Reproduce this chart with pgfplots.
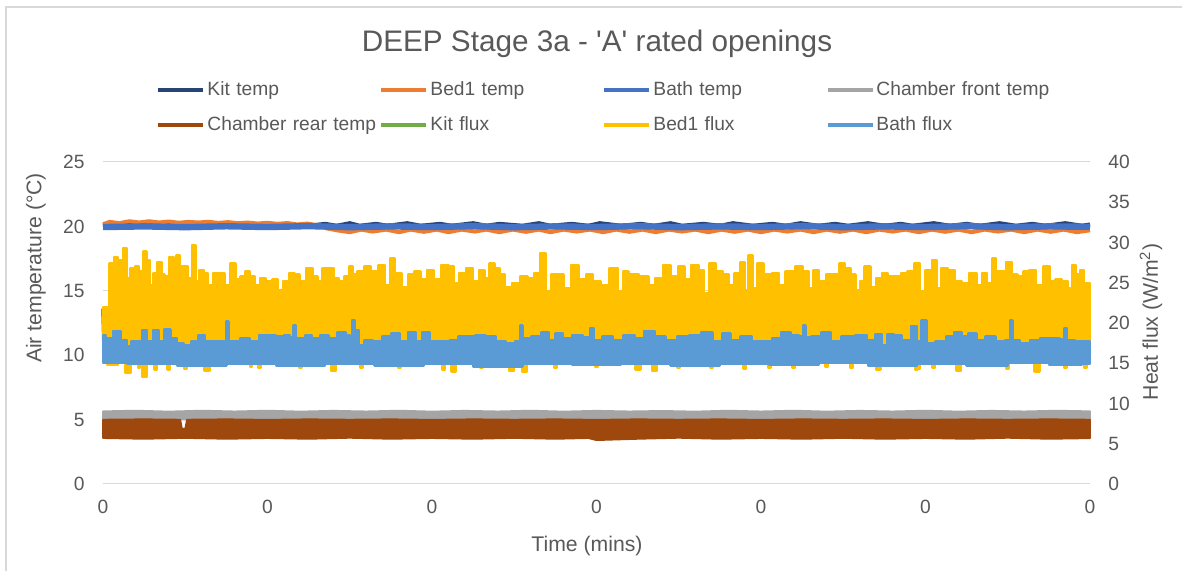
\documentclass[border=0pt]{standalone}
\usepackage{fontspec}
\setmainfont{Liberation Sans}
\newfontfamily\plainfont{Liberation Sans}
\usepackage{pgfplots}
\pgfplotsset{compat=1.18}
\definecolor{txt}{HTML}{595959}
\definecolor{gridc}{HTML}{D9D9D9}
\definecolor{kitT}{HTML}{264478}
\definecolor{bedT}{HTML}{ED7D31}
\definecolor{bathT}{HTML}{4472C4}
\definecolor{frontT}{HTML}{A5A5A5}
\definecolor{rearT}{HTML}{9E480E}
\definecolor{kitF}{HTML}{70AD47}
\definecolor{bedF}{HTML}{FFC000}
\definecolor{bathF}{HTML}{5B9BD5}
\pgfplotsset{base/.style={
  scale only axis, width=493.5pt, height=161pt,
  at={(51.5pt,43.5pt)}, anchor=south west,
  xmin=0, xmax=6, clip=false,
  axis line style={draw=none}, major tick length=0pt,
  ticklabel style={font=\fontsize{9.6}{11}\selectfont, text=txt},
  /pgf/number format/assume math mode=true,
}}
\begin{document}
\begin{tikzpicture}
\useasboundingbox (0,0) rectangle (591pt,285.5pt);
\fill[white] (0,0) rectangle (591pt,285.5pt);
\draw[gridc, line width=0.75pt] (3pt,0) -- (3pt,282pt) -- (591pt,282pt);
\node[font=\plainfont\fontsize{14.85}{17}\selectfont, text=txt] at (298.5pt,263.5pt) {DEEP Stage 3a - 'A' rated openings};
\node[rotate=90, font=\fontsize{10.6}{12}\selectfont, text=txt] at (18pt,151.5pt) {Air temperature (°C)};
\node[rotate=90, font=\fontsize{10.6}{12}\selectfont, text=txt] at (575.5pt,124.5pt) {Heat flux (W/m\textsuperscript{2})};
\node[font=\fontsize{10.6}{12}\selectfont, text=txt] at (293.5pt,12.5pt) {Time (mins)};

% ---------- left axis: temperatures ----------
\begin{axis}[base, ymin=0, ymax=25, ytick={0,5,...,25},
  ymajorgrids, grid style={gridc, line width=0.5pt},
  xtick={0,1,...,6}, xticklabels={0,0,0,0,0,0,0},
  yticklabel style={anchor=east, inner sep=0pt, xshift=-9pt},
  xticklabel style={anchor=north, inner sep=0pt, yshift=-8pt}]
% Kit temp
\addplot[kitT, line width=2pt, line join=round] coordinates {
(0,20.2) (0.08,20.1) (0.15,20.2) (0.25,20.05) (0.35,20.15) (0.45,20.05) (0.55,20.1) (0.65,20.0) (0.75,20.1) (0.85,20.05) (0.95,20.1) (1.05,20.0) (1.15,20.1) (1.25,20.05) (1.35,20.2) (1.42,20.05) (1.5,20.25) (1.56,20.05) (1.66,20.2) (1.73,20.05) (1.85,20.25) (1.93,20.05) (2.05,20.2) (2.12,20.05) (2.25,20.25) (2.33,20.05) (2.41,20.2) (2.55,20.05) (2.65,20.25) (2.72,20.05) (2.85,20.2) (2.95,20.05) (3.02,20.25) (3.15,20.05) (3.27,20.2) (3.35,20.05) (3.45,20.25) (3.52,20.05) (3.65,20.2) (3.75,20.05) (3.83,20.25) (3.95,20.05) (4.07,20.2) (4.15,20.05) (4.24,20.25) (4.35,20.05) (4.45,20.2) (4.53,20.05) (4.65,20.25) (4.75,20.05) (4.85,20.2) (4.92,20.05) (5.05,20.25) (5.15,20.05) (5.25,20.2) (5.33,20.05) (5.45,20.25) (5.55,20.05) (5.65,20.2) (5.73,20.05) (5.85,20.25) (5.95,20.05) (6,20.15)};
% Bed1 temp
\addplot[bedT, line width=2pt, line join=round] coordinates {
(0,20.15) (0.04,20.35) (0.1,20.25) (0.16,20.4) (0.22,20.3) (0.28,20.4) (0.34,20.3) (0.4,20.38) (0.46,20.28) (0.52,20.35) (0.58,20.3) (0.64,20.36) (0.7,20.27) (0.76,20.33) (0.82,20.25) (0.88,20.3) (0.94,20.22) (1.0,20.28) (1.06,20.2) (1.12,20.26) (1.18,20.15) (1.24,20.22) (1.3,20.1) (1.36,19.85) (1.42,19.7) (1.5,19.55) (1.57,19.75) (1.64,19.6) (1.72,19.75) (1.8,19.55) (1.87,19.75) (1.95,19.58) (2.03,19.75) (2.1,19.55) (2.18,19.75) (2.26,19.6) (2.33,19.75) (2.41,19.55) (2.49,19.75) (2.57,19.58) (2.65,19.75) (2.72,19.55) (2.8,19.75) (2.88,19.6) (2.96,19.75) (3.04,19.55) (3.12,19.75) (3.2,19.58) (3.28,19.75) (3.36,19.55) (3.44,19.75) (3.52,19.6) (3.6,19.75) (3.68,19.55) (3.76,19.75) (3.84,19.58) (3.92,19.75) (4.0,19.55) (4.08,19.75) (4.16,19.6) (4.24,19.75) (4.32,19.55) (4.4,19.75) (4.48,19.58) (4.56,19.75) (4.64,19.55) (4.72,19.75) (4.8,19.6) (4.88,19.75) (4.96,19.55) (5.04,19.75) (5.12,19.58) (5.2,19.75) (5.28,19.55) (5.36,19.75) (5.44,19.6) (5.52,19.75) (5.6,19.55) (5.68,19.75) (5.76,19.58) (5.84,19.75) (5.92,19.55) (6,19.7)};
% Bath temp
\addplot[bathT, line width=3.2pt, line join=round] coordinates {
(0,19.95) (0.25,20.0) (0.5,19.94) (0.75,20.01) (1.0,19.95) (1.25,20.02) (1.5,19.94) (1.75,20.0) (2.0,19.95) (2.25,20.02) (2.5,19.94) (2.75,20.0) (3.0,19.95) (3.25,20.02) (3.5,19.94) (3.75,20.0) (4.0,19.95) (4.25,20.02) (4.5,19.94) (4.75,20.0) (5.0,19.95) (5.25,20.02) (5.5,19.94) (5.75,20.0) (6.0,19.97)};
% Chamber front temp (band)
\addplot[draw=frontT, fill=frontT, line width=0.8pt, line join=round, forget plot] coordinates {
(0,5.65) (0.2,5.7) (0.4,5.63) (0.6,5.7) (0.8,5.64) (1.0,5.7) (1.2,5.63) (1.4,5.69) (1.6,5.64) (1.8,5.7) (2.0,5.63) (2.2,5.69) (2.4,5.64) (2.6,5.7) (2.8,5.63) (3.0,5.69) (3.2,5.64) (3.4,5.68) (3.6,5.63) (3.8,5.7) (4.0,5.64) (4.2,5.7) (4.4,5.63) (4.6,5.69) (4.8,5.64) (5.0,5.7) (5.2,5.63) (5.4,5.69) (5.6,5.64) (5.8,5.7) (6.0,5.65)
(6.0,5.0) (0,5.0)} -- cycle;
% Chamber rear temp (band)
\addplot[draw=rearT, fill=rearT, line width=0.8pt, line join=round, forget plot] coordinates {
(0,5.0) (0.25,5.03) (0.47,5.0) (0.48,4.3) (0.5,4.3) (0.51,5.0) (0.75,5.03) (1.0,4.99) (1.25,5.03) (1.5,5.0) (1.75,5.03) (2.0,4.99) (2.25,5.03) (2.5,5.0) (2.75,5.03) (3.0,4.99) (3.25,5.03) (3.5,5.0) (3.75,5.03) (4.0,4.99) (4.25,5.03) (4.5,5.0) (4.75,5.03) (5.0,4.99) (5.25,5.03) (5.5,5.0) (5.75,5.03) (6.0,5.0)
(6.0,3.55) (5.75,3.5) (5.5,3.58) (5.25,3.5) (5.0,3.56) (4.75,3.5) (4.5,3.57) (4.25,3.5) (4.0,3.56) (3.75,3.5) (3.5,3.58) (3.25,3.5) (3.0,3.4) (2.95,3.56) (2.75,3.5) (2.5,3.57) (2.25,3.5) (2.0,3.56) (1.75,3.5) (1.5,3.58) (1.25,3.5) (1.0,3.56) (0.75,3.5) (0.5,3.57) (0.25,3.5) (0,3.56)} -- cycle;
\end{axis}

% ---------- right axis: heat flux ----------
\begin{axis}[base, ymin=0, ymax=40, ytick={0,5,...,40},
  axis y line*=right, hide x axis,
  yticklabel style={anchor=west, inner sep=0pt, xshift=9pt},
  legend columns=4,
  legend style={draw=none, fill=none, inner sep=0pt, outer sep=0pt,
    at={(axis description cs:0.0542,1.278)}, anchor=north west,
    font=\fontsize{9.6}{11}\selectfont, text=txt,
    nodes={text width=85pt, minimum height=17.5pt, inner xsep=1pt, inner ysep=0pt, align=left},
    column sep=0pt, row sep=0pt},
  legend image code/.code={\draw[#1, line width=2pt] (0pt,0.2pt) -- (22.5pt,0.2pt);}]
\addlegendimage{color=kitT}\addlegendentry{\mbox{Kit temp}}
\addlegendimage{color=bedT}\addlegendentry{\mbox{Bed1 temp}}
\addlegendimage{color=bathT}\addlegendentry{\mbox{Bath temp}}
\addlegendimage{color=frontT}\addlegendentry{\mbox{Chamber front temp}}
\addlegendimage{color=rearT}\addlegendentry{\mbox{Chamber rear temp}}
\addlegendimage{color=kitF}\addlegendentry{\mbox{Kit flux}}
\addlegendimage{color=bedF}\addlegendentry{\mbox{Bed1 flux}}
\addlegendimage{color=bathF}\addlegendentry{\mbox{Bath flux}}
% Kit flux
\addplot[kitF, line width=2pt, forget plot] coordinates {
(0,21.8) (0.005,18.6) (0.03,20.5) (0.3,21.0) (0.8,20.2) (1.5,21.0) (2.2,20.4) (3.0,21.0) (3.8,20.5) (4.6,21.0) (5.4,20.4) (6.0,20.8)};
% Bed1 flux (band)
\addplot[const plot mark mid, draw=bedF, fill=bedF, line width=1.2pt, line join=round, forget plot] coordinates {
(0.00,22.0) (0.03,22.0) (0.05,27.4) (0.085,28.2) (0.10,27.8) (0.14,29.3) (0.155,25.6) (0.18,26.8) (0.21,27.0) (0.23,26.4) (0.255,28.9) (0.275,27.8) (0.30,24.7) (0.315,26.2) (0.345,27.6) (0.365,26.0) (0.385,25.8) (0.42,28.2) (0.44,27.0) (0.455,28.4) (0.48,27.0) (0.505,27.0) (0.53,25.6) (0.555,29.7) (0.57,25.2) (0.60,26.6) (0.625,26.2) (0.655,24.7) (0.685,26.2) (0.72,26.2) (0.755,24.7) (0.79,27.4) (0.82,25.4) (0.85,25.8) (0.88,26.4) (0.91,25.8) (0.94,24.7) (0.97,25.6) (1.01,25.2) (1.05,25.4) (1.08,24.1) (1.11,25.2) (1.15,26.2) (1.18,26.0) (1.21,25.2) (1.26,26.8) (1.29,25.8) (1.32,25.2) (1.35,26.8) (1.39,26.8) (1.42,25.6) (1.45,25.2) (1.48,25.8) (1.51,27.0)
(1.53,26.0) (1.56,26.4) (1.61,27.0) (1.65,26.4) (1.70,27.2) (1.73,24.7) (1.76,28.0) (1.79,26.2) (1.84,24.5) (1.87,26.0) (1.91,26.4) (1.95,25.4) (1.99,26.6) (2.03,25.4) (2.08,27.2) (2.12,27.0) (2.15,25.0) (2.18,26.2) (2.23,26.8) (2.27,25.2) (2.30,26.6) (2.34,25.6) (2.36,27.4) (2.40,26.8) (2.43,26.0) (2.46,24.5) (2.51,25.0) (2.56,25.8) (2.60,25.6) (2.64,26.2) (2.67,28.7) (2.71,23.9) (2.74,26.0) (2.78,26.0) (2.82,24.3) (2.87,27.2) (2.91,25.4) (2.96,26.0) (3.00,25.2)
(3.05,24.7) (3.11,26.8) (3.15,23.9) (3.17,26.4) (3.22,26.0) (3.30,25.8) (3.33,24.7) (3.38,25.6) (3.43,27.2) (3.47,25.8) (3.52,27.0) (3.55,25.4) (3.60,27.2) (3.64,26.6) (3.67,23.7) (3.70,27.4) (3.75,26.4) (3.79,26.0) (3.82,24.7) (3.86,26.2) (3.89,27.6) (3.91,24.1) (3.94,28.4) (3.96,24.3) (3.99,27.4) (4.04,26.0) (4.09,26.2) (4.13,24.7) (4.17,26.4) (4.24,27.0) (4.27,26.4) (4.31,24.3) (4.33,26.6) (4.37,25.2) (4.42,26.0) (4.46,26.0) (4.49,27.4) (4.53,26.8)
(4.56,26.0) (4.59,24.1) (4.61,25.2) (4.65,27.0) (4.68,24.5) (4.72,25.6) (4.75,26.2) (4.79,25.8) (4.83,25.8) (4.87,26.2) (4.91,26.4) (4.95,27.4) (4.98,23.9) (5.02,26.6) (5.06,27.8) (5.08,24.3) (5.11,26.8) (5.16,26.6) (5.20,25.2) (5.24,25.0) (5.29,26.2) (5.33,24.7) (5.36,26.2) (5.39,25.0) (5.42,28.0) (5.44,26.4) (5.47,26.4) (5.51,27.6) (5.54,26.0) (5.58,25.8) (5.61,26.4) (5.65,26.6) (5.69,24.7) (5.74,27.0) (5.77,25.2) (5.81,25.4) (5.85,25.2) (5.88,24.3) (5.90,27.2) (5.93,26.0) (5.95,26.6) (5.98,25.0) (6.00,25.0)
(6.00,15.0) (5.985,15.0) (5.97,14.4) (5.955,15.0) (5.865,15.0) (5.85,14.4) (5.835,15.0) (5.70,15.0) (5.685,13.95) (5.67,13.95) (5.655,15.0) (5.515,15.0) (5.50,14.3) (5.485,15.0) (5.40,15.0) (5.225,15.0) (5.21,14.0) (5.195,14.0) (5.18,15.0) (5.065,15.0) (5.05,14.4) (5.035,15.0) (4.975,15.0) (4.96,14.3) (4.945,14.2) (4.93,15.0) (4.735,15.0) (4.72,14.2) (4.705,14.2) (4.69,15.0) (4.565,15.0) (4.55,14.4) (4.535,15.0) (4.415,15.0) (4.40,14.5) (4.385,15.0) (4.215,15.0) (4.20,14.4) (4.185,15.0) (4.065,15.0) (4.05,14.4) (4.035,15.0) (3.915,15.0) (3.90,14.3) (3.885,15.0) (3.715,15.0) (3.70,14.4) (3.685,15.0) (3.515,15.0) (3.50,14.4) (3.485,15.0) (3.375,15.0) (3.36,14.0) (3.345,14.0) (3.33,15.0) (3.275,15.0) (3.26,14.2) (3.245,14.2) (3.23,15.0) (3.015,15.0) (3.00,14.5) (2.985,15.0) (2.765,15.0) (2.75,14.4) (2.735,15.0) (2.585,15.0) (2.57,13.95) (2.555,13.95) (2.54,15.0) (2.505,15.0) (2.49,14.0) (2.475,14.0) (2.46,15.0) (2.315,15.0) (2.30,14.4) (2.285,15.0) (2.155,15.0) (2.14,13.95) (2.125,13.95) (2.11,15.0) (2.085,15.0) (2.07,14.2) (2.055,15.0) (1.815,15.0) (1.80,14.4) (1.785,15.0) (1.585,15.0) (1.57,14.4) (1.555,15.0) (1.425,15.0) (1.41,14.0) (1.395,14.0) (1.38,15.0) (1.215,15.0) (1.20,14.4) (1.185,15.0) (0.965,15.0) (0.95,14.4) (0.935,15.0) (0.915,15.0) (0.90,14.5) (0.885,15.0) (0.655,15.0) (0.64,14.0) (0.625,14.0) (0.61,15.0) (0.515,15.0) (0.50,14.3) (0.485,15.0) (0.415,15.0) (0.40,14.2) (0.385,15.0) (0.335,15.0) (0.32,14.2) (0.305,15.0) (0.275,15.0) (0.26,13.3) (0.245,13.3) (0.23,15.0) (0.22,14.4) (0.205,15.0) (0.175,15.0) (0.16,13.8) (0.145,13.8) (0.13,15.0) (0.05,14.8) (0.00,15.0)} -- cycle;
% Bath flux (band)
\addplot[const plot mark mid, draw=bathF, fill=bathF, line width=1.2pt, line join=round, forget plot] coordinates {
(0.00,18.5) (0.03,18.1) (0.095,19.0) (0.12,17.9) (0.135,17.9) (0.155,17.1) (0.19,17.8) (0.22,17.7) (0.255,19.1) (0.28,17.7) (0.325,19.1) (0.35,17.7) (0.39,19.2) (0.43,18.1) (0.47,17.5) (0.51,17.3) (0.56,17.7) (0.60,18.5) (0.64,17.7) (0.70,17.8) (0.74,17.8) (0.755,20.2) (0.77,17.8) (0.81,17.8) (0.86,18.1) (0.92,17.8) (0.98,18.5) (1.02,18.5) (1.08,18.3) (1.12,18.5) (1.15,18.2) (1.165,19.7) (1.18,18.1) (1.21,18.1) (1.25,18.5) (1.29,18.1) (1.35,18.5) (1.39,18.1) (1.46,18.9) (1.49,18.5) (1.51,18.4) (1.52,20.4) (1.54,19.1) (1.57,17.3) (1.61,17.9) (1.67,17.8) (1.72,18.3) (1.78,18.7) (1.83,17.7) (1.88,18.9) (1.92,17.8) (1.96,18.9) (2.01,17.7) (2.08,17.7) (2.14,17.9) (2.18,18.3) (2.24,18.3) (2.29,18.5) (2.36,18.3) (2.42,17.7) (2.48,17.5) (2.53,17.8) (2.54,19.7) (2.56,18.1) (2.64,18.3) (2.69,18.9) (2.73,17.9) (2.77,18.7) (2.82,18.1) (2.88,18.5) (2.95,18.2) (2.97,19.4) (3.00,17.9)
(3.07,18.3) (3.13,17.9) (3.20,18.5) (3.26,18.1) (3.32,19.0) (3.39,18.3) (3.45,17.9) (3.53,18.3) (3.60,18.5) (3.67,18.8) (3.74,17.7) (3.79,18.7) (3.84,17.9) (3.91,18.3) (3.98,17.7) (4.04,17.7) (4.09,18.1) (4.15,18.9) (4.21,18.5) (4.25,18.3) (4.26,19.7) (4.28,18.2) (4.33,18.3) (4.40,18.8) (4.45,17.7) (4.53,18.3) (4.62,18.5) (4.67,17.9) (4.72,18.6) (4.75,17.3) (4.79,18.6) (4.83,18.5) (4.88,17.9) (4.94,19.6) (4.96,17.7) (4.99,20.3) (5.02,17.5) (5.10,17.7) (5.15,18.3) (5.20,18.9) (5.24,18.3) (5.28,18.7) (5.34,17.9) (5.39,18.3) (5.46,17.7) (5.51,17.9) (5.52,20.3) (5.54,17.9) (5.61,17.5) (5.66,17.9) (5.73,18.1) (5.79,18.1) (5.84,18.0) (5.85,19.4) (5.87,17.9) (5.95,17.8) (6.00,17.8)
(6.00,14.9) (5.90,14.8) (5.60,15.0) (5.40,14.7) (5.10,14.9) (4.80,14.7) (4.50,15.0) (4.20,14.8) (3.90,14.9) (3.60,14.7) (3.30,14.9) (3.00,14.8) (2.70,14.9) (2.40,14.6) (2.10,14.9) (1.80,14.7) (1.50,14.9) (1.20,14.7) (0.90,14.9) (0.60,14.7) (0.30,14.9) (0.00,15.0)} -- cycle;
\end{axis}
\end{tikzpicture}
\end{document}
